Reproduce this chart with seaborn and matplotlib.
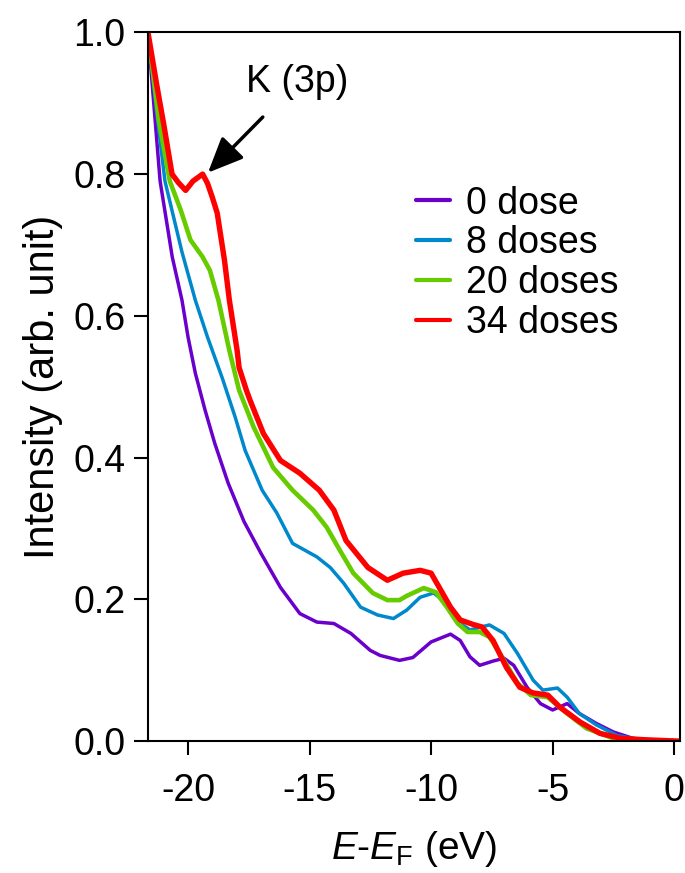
import numpy as np
import pandas as pd
import matplotlib
matplotlib.use("Agg")
import matplotlib.pyplot as plt
import seaborn as sns

# ---- data ----
e_0 = [-21.65, -21.15, -20.65, -20.25, -20.0, -19.7, -19.3, -18.9, -18.35, -17.7, -17.0,
       -16.2, -15.4, -14.7, -14.0, -13.3, -12.5, -12.1, -11.3, -10.75, -10.0, -9.2, -8.8,
       -8.4, -8.0, -7.45, -7.0, -6.6, -6.05, -5.5, -5.0, -4.4, -3.9, -3.2, -2.5, -1.7, -0.8, 0.25]
i_0 = [1.0, 0.79, 0.683, 0.622, 0.57, 0.519, 0.467, 0.42, 0.364, 0.31, 0.265,
       0.217, 0.18, 0.168, 0.166, 0.152, 0.128, 0.121, 0.114, 0.118, 0.14, 0.151, 0.142,
       0.119, 0.107, 0.113, 0.117, 0.107, 0.076, 0.053, 0.044, 0.053, 0.039, 0.025, 0.013, 0.004, 0.001, 0.0]

e_8 = [-21.65, -21.3, -20.95, -20.6, -20.25, -19.7, -19.2, -18.6, -18.06, -17.65, -16.95,
       -16.35, -15.7, -14.7, -14.15, -13.6, -12.9, -12.2, -11.55, -11.0, -10.45, -9.9, -9.35,
       -8.8, -8.4, -7.6, -7.0, -6.45, -5.8, -5.4, -4.8, -4.4, -3.9, -3.2, -2.35, -1.4, 0.25]
i_8 = [1.0, 0.89, 0.79, 0.74, 0.69, 0.622, 0.57, 0.513, 0.457, 0.41, 0.354,
       0.322, 0.279, 0.26, 0.245, 0.223, 0.189, 0.178, 0.173, 0.185, 0.203, 0.209, 0.195,
       0.166, 0.157, 0.164, 0.152, 0.124, 0.086, 0.072, 0.075, 0.062, 0.039, 0.023, 0.008, 0.002, 0.0]

e_20 = [-21.65, -21.2, -20.75, -20.3, -19.9, -19.4, -19.1, -18.75, -18.3, -17.9, -17.3,
        -16.5, -15.7, -14.85, -14.3, -13.75, -13.2, -12.4, -11.8, -11.3, -11.0, -10.3, -9.8,
        -9.35, -8.9, -8.5, -8.0, -7.6, -7.0, -6.45, -5.9, -5.2, -4.4, -3.6, -2.5, -1.5, 0.25]
i_20 = [1.0, 0.875, 0.79, 0.749, 0.707, 0.683, 0.664, 0.622, 0.551, 0.495, 0.443,
        0.386, 0.354, 0.326, 0.302, 0.269, 0.237, 0.209, 0.199, 0.199, 0.205, 0.216, 0.21,
        0.189, 0.166, 0.154, 0.154, 0.147, 0.114, 0.082, 0.065, 0.062, 0.039, 0.018, 0.004, 0.001, 0.0]

e_34 = [-21.65, -21.3, -21.0, -20.66, -20.4, -20.1, -19.8, -19.4, -19.2, -19.0, -18.8,
        -18.5, -18.3, -17.98, -17.9, -17.6, -17.45, -16.9, -16.2, -15.4, -14.6, -14.0, -13.5,
        -12.6, -11.8, -11.15, -10.45, -10.0, -9.6, -9.2, -8.8, -8.3, -7.9, -7.45, -6.9, -6.35,
        -5.8, -5.2, -4.7, -3.87, -3.05, -2.2, -1.2, 0.25]
i_34 = [1.0, 0.928, 0.87, 0.80, 0.788, 0.777, 0.79, 0.80, 0.787, 0.767, 0.745,
        0.678, 0.622, 0.551, 0.527, 0.495, 0.481, 0.434, 0.396, 0.378, 0.354, 0.326, 0.283,
        0.245, 0.227, 0.237, 0.241, 0.237, 0.213, 0.189, 0.171, 0.165, 0.161, 0.142, 0.104, 0.076,
        0.068, 0.065, 0.048, 0.027, 0.011, 0.004, 0.002, 0.0]

labels = ["0 dose", "8 doses", "20 doses", "34 doses"]
colors = ["#6A00CC", "#0088CC", "#66CC00", "#FF0000"]
widths = [2.5, 2.5, 3.3, 3.9]
x_ticks = [-20, -15, -10, -5, 0]
y_ticks = [0.0, 0.2, 0.4, 0.6, 0.8, 1.0]

frames = []
for lab, e, i in zip(labels, [e_0, e_8, e_20, e_34], [i_0, i_8, i_20, i_34]):
    frames.append(pd.DataFrame({"E": e, "I": i, "series": lab}))
df = pd.concat(frames, ignore_index=True)

sns.set_theme(style="white")
plt.rcParams["font.family"] = ["Liberation Sans", "DejaVu Sans"]
plt.rcParams["mathtext.fontset"] = "custom"
plt.rcParams["mathtext.it"] = "Liberation Sans:italic"
plt.rcParams["mathtext.rm"] = "Liberation Sans"
for key in ["text.color", "axes.labelcolor", "xtick.color", "ytick.color"]:
    plt.rcParams[key] = "black"

fig = plt.figure(figsize=(6.85, 8.73), dpi=100)
ax = fig.add_axes([0.216, 0.151, 0.777, 0.812])

for lab, col, lw in zip(labels, colors, widths):
    sub = df[df["series"] == lab]
    sns.lineplot(data=sub, x="E", y="I", ax=ax, color=col, lw=lw, label=lab,
                 sort=False, estimator=None)

ax.set_xlim(-21.65, 0.25)
ax.set_ylim(0, 1.0)
ax.set_xticks(x_ticks)
ax.set_xticklabels([str(t) for t in x_ticks])
ax.set_yticks(y_ticks)
ax.set_yticklabels([f"{t:.1f}" for t in y_ticks])
ax.tick_params(axis="both", direction="out", length=10, width=1.5, labelsize=27,
               bottom=True, left=True, top=False, right=False, colors="black")
ax.tick_params(axis="x", pad=13)
ax.tick_params(axis="y", pad=6)
for s in ax.spines.values():
    s.set_color("black")
    s.set_linewidth(1.5)

ax.set_xlabel(r"$\it{E}$-$\it{E}_{\rm F}$ (eV)", fontsize=28, labelpad=14)
ax.set_ylabel("Intensity (arb. unit)", fontsize=30, labelpad=8)

leg = ax.legend(loc="upper left", bbox_to_anchor=(0.475, 0.805), frameon=False,
                fontsize=27, handlelength=0.9, handletextpad=0.45, labelspacing=0.1,
                borderaxespad=0)
for line in leg.get_lines():
    line.set_linewidth(3)

ax.annotate("K (3p)", xy=(-19.18, 0.802), xytext=(-15.5, 0.93),
            ha="center", va="center", fontsize=27,
            arrowprops=dict(arrowstyle="-|>,head_length=0.8,head_width=0.35",
                            color="black", lw=2.5, shrinkA=14, shrinkB=0))

fig.savefig("out.png", dpi=100)
